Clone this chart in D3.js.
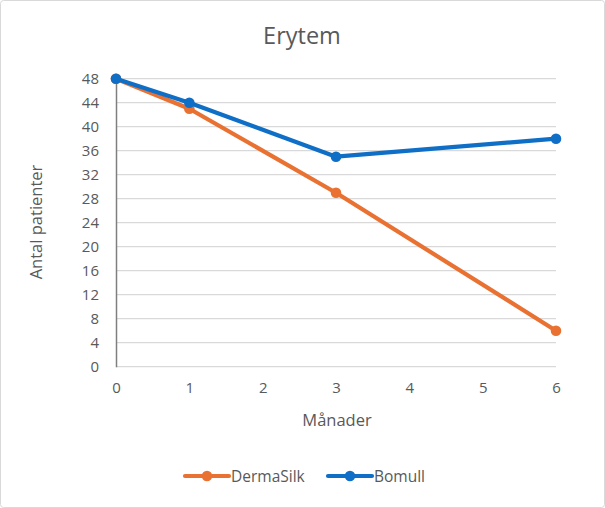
<!DOCTYPE html>
<html><head><meta charset="utf-8">
<script src="https://cdn.jsdelivr.net/npm/d3@7"></script>
<style>body{margin:0;background:#fff}svg{display:block;font-family:"Open Sans",Lato,sans-serif}</style>
</head><body><svg id="c" width="605" height="508"></svg>
<script>
const months = [0, 1, 3, 6];
const dermaSilk = [48, 43, 29, 6];
const bomull = [48, 44, 35, 38];
const yTicks = [0,4,8,12,16,20,24,28,32,36,40,44,48];
const xTicks = [0,1,2,3,4,5,6];
const seriesNames = ["DermaSilk", "Bomull"];
const colors = ["#E97132", "#0F6FC6"];

const svg = d3.select("#c");
svg.append("rect").attr("x",0.5).attr("y",0.5).attr("width",604).attr("height",507)
  .attr("fill","#fff").attr("stroke","#d9d9d9").attr("rx",3);

const x = d3.scaleLinear().domain([0,6]).range([116,556]);
const y = d3.scaleLinear().domain([0,48]).range([366.7,78.7]);
const txt = "#595959";

svg.append("g").selectAll("line").data(yTicks).join("line")
  .attr("x1",116).attr("x2",556).attr("y1",d=>y(d)).attr("y2",d=>y(d))
  .attr("stroke","#d9d9d9").attr("stroke-width",1.3);

const ya = svg.append("g").attr("transform","translate(116,0)")
  .call(d3.axisLeft(y).tickValues(yTicks).tickSize(0).tickPadding(17));
ya.select(".domain").attr("stroke","#7f7f7f").attr("stroke-width",1.5);
ya.selectAll("text").attr("fill",txt).attr("font-size",15).attr("font-family","Open Sans, sans-serif");

const xa = svg.append("g").attr("transform","translate(0,366.7)")
  .call(d3.axisBottom(x).tickValues(xTicks).tickSize(0).tickPadding(16).tickFormat(d3.format("d")));
xa.select(".domain").remove();
xa.selectAll("text").attr("fill",txt).attr("font-size",15).attr("font-family","Open Sans, sans-serif");

svg.append("text").attr("x",302).attr("y",44).attr("text-anchor","middle")
  .attr("fill",txt).attr("font-size",23.5).text("Erytem");
svg.append("text").attr("transform","translate(42,222) rotate(-90)").attr("text-anchor","middle")
  .attr("fill",txt).attr("font-size",16.5).text("Antal patienter");
svg.append("text").attr("x",337).attr("y",426).attr("text-anchor","middle")
  .attr("fill",txt).attr("font-size",16.5).text("Månader");

const data = [dermaSilk, bomull];
data.forEach((vals,i)=>{
  const pts = months.map((m,j)=>[m,vals[j]]);
  svg.append("path").datum(pts)
    .attr("d", d3.line().x(d=>x(d[0])).y(d=>y(d[1])))
    .attr("fill","none").attr("stroke",colors[i]).attr("stroke-width",4.2)
    .attr("stroke-linejoin","round").attr("stroke-linecap","round");
  svg.append("g").selectAll("circle").data(pts).join("circle")
    .attr("cx",d=>x(d[0])).attr("cy",d=>y(d[1])).attr("r",5.3).attr("fill",colors[i]);
});

const lg = svg.append("g");
const lx = [185, 328];
seriesNames.forEach((n,i)=>{
  lg.append("line").attr("x1",lx[i]).attr("x2",lx[i]+44).attr("y1",476).attr("y2",476)
    .attr("stroke",colors[i]).attr("stroke-width",4.2).attr("stroke-linecap","round");
  lg.append("circle").attr("cx",lx[i]+22).attr("cy",476).attr("r",5.3).attr("fill",colors[i]);
  lg.append("text").attr("x",lx[i]+46).attr("y",481.5).attr("fill",txt).attr("font-size",15.5).text(n);
});
</script></body></html>
